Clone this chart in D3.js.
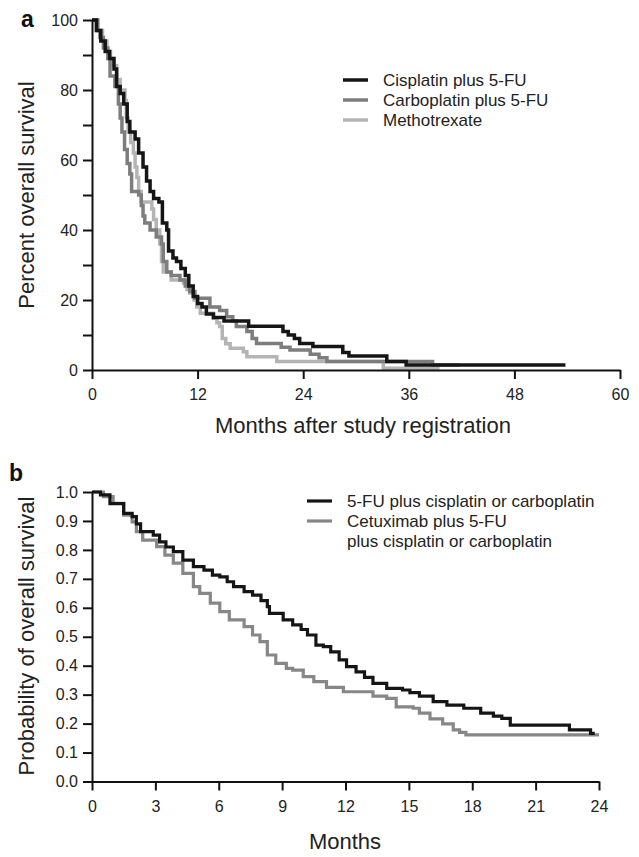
<!DOCTYPE html>
<html>
<head>
  <meta charset="utf-8">
  <style>
    body { margin: 0; background: #fff; }
    svg { display: block; font-family: "Liberation Sans", Arial, sans-serif; }
    .axis path, .axis line { stroke: #111; stroke-width: 2px; }
    .axis text { font-size: 16px; fill: #222; }
    .title { font-size: 22px; fill: #222; }
    .panel { font-size: 23px; font-weight: bold; fill: #111; }
    .leg { font-size: 17px; fill: #222; }
  </style>
  <script src="https://d3js.org/d3.v7.min.js"></script>
</head>
<body>
<div id="chart"></div>
<script>
  // panel a : months after registration / percent surviving
  var cisMonths = [0, 0.5, 1.0, 1.5, 2.0, 2.5, 2.8, 3.2, 3.6, 4.0, 4.3, 4.9, 5.3, 5.8, 6.2, 6.6, 7.0, 7.6, 8.0, 8.5, 8.7, 9.2, 9.6, 10.1, 10.6, 11.0, 11.5, 12.0, 12.5, 13.0, 13.8, 15.0, 17.8, 21.7, 22.3, 23.0, 23.6, 25.1, 28.5, 29.2, 33.5, 35.7, 53.8];
  var cisSurv   = [100, 97, 94, 91, 89, 86, 81, 79, 76, 71, 68, 66, 62, 58, 54, 51, 49, 48, 42, 40, 34, 32, 31, 29, 27, 24, 21, 19, 18, 16, 15, 14, 12.5, 11, 10, 9, 7.6, 6.7, 5, 4, 2.4, 1.4, 1.4];

  var carboMonths = [0, 0.6, 0.9, 1.3, 1.8, 2.05, 2.6, 3.0, 3.2, 3.4, 3.7, 4.0, 4.3, 4.5, 5.3, 5.6, 5.8, 6.0, 6.6, 7.3, 7.9, 8.1, 8.5, 9.0, 10.0, 10.6, 11.1, 11.7, 13.4, 14.5, 15.3, 16.0, 16.4, 17.6, 18.2, 18.7, 21.5, 22.5, 24.8, 25.8, 26.7, 38.7, 41.8];
  var carboSurv   = [100, 97, 95, 92, 89, 84, 81, 76, 72, 68, 63, 59, 56, 51, 50, 47, 44, 42, 40, 38, 36, 31, 28, 27, 25.7, 24, 22.4, 20.5, 18, 17, 15.2, 14, 12.4, 11, 9, 7.6, 6.5, 5.7, 4.5, 3.5, 2.4, 1.4, 1.4];

  var mtxMonths = [0, 0.7, 1.2, 1.7, 2.1, 2.4, 2.8, 3.2, 3.75, 3.9, 4.1, 4.4, 4.7, 4.9, 5.1, 5.3, 5.6, 6.8, 7.0, 7.3, 7.7, 7.9, 8.1, 9.0, 10.4, 10.8, 11.1, 11.6, 11.9, 12.3, 13.8, 14.2, 14.5, 14.8, 15.2, 15.7, 17.2, 17.6, 21.0, 33.1, 39.5];
  var mtxSurv   = [100, 97, 94, 91, 89, 87, 83, 80, 77, 72, 68, 65, 62, 58, 55, 51, 48, 46, 43, 40, 36, 31, 28, 25.7, 24.8, 23, 22, 20, 18, 16.2, 14.8, 13.5, 12.4, 9, 7.5, 6.2, 5.2, 3.8, 2.4, 0.5, 0.5];

  var seriesA = ["Cisplatin plus 5-FU", "Carboplatin plus 5-FU", "Methotrexate"];
  var colorsA = ["#151515", "#7d7d7d", "#b4b4b4"];
  var ticksA = [0, 12, 24, 36, 48, 60];

  // panel b : months / probability
  var chemoMonths = [0, 0.4, 0.85, 1.5, 1.9, 2.1, 2.3, 2.9, 3.2, 3.5, 3.85, 4.3, 4.8, 5.3, 5.7, 6.05, 6.4, 6.7, 7.2, 7.6, 8.0, 8.3, 8.4, 9.05, 9.5, 9.9, 10.2, 10.6, 10.95, 11.3, 11.7, 12.05, 12.5, 12.9, 13.3, 13.95, 14.7, 15.05, 15.5, 16.15, 16.8, 17.6, 18.4, 19.0, 19.4, 19.8, 22.6, 23.6, 23.8];
  var chemoSurv   = [1.0, 0.99, 0.96, 0.926, 0.915, 0.89, 0.863, 0.851, 0.828, 0.81, 0.794, 0.765, 0.742, 0.73, 0.713, 0.707, 0.69, 0.673, 0.656, 0.644, 0.625, 0.604, 0.581, 0.558, 0.541, 0.525, 0.506, 0.471, 0.466, 0.448, 0.42, 0.397, 0.379, 0.36, 0.339, 0.322, 0.316, 0.307, 0.295, 0.276, 0.264, 0.253, 0.236, 0.226, 0.218, 0.195, 0.178, 0.166, 0.166];

  var cetuxMonths = [0, 0.54, 1.0, 1.5, 1.9, 2.1, 2.4, 3.06, 3.45, 3.85, 4.3, 4.8, 5.1, 5.6, 6.05, 6.5, 7.2, 7.6, 7.95, 8.3, 8.7, 9.2, 9.5, 10.0, 10.5, 11.1, 11.9, 13.3, 13.95, 14.4, 15.2, 15.5, 16.0, 16.6, 17.1, 17.4, 17.7, 24.0];
  var cetuxSurv   = [1.0, 0.984, 0.961, 0.92, 0.897, 0.863, 0.834, 0.811, 0.782, 0.754, 0.719, 0.673, 0.65, 0.616, 0.587, 0.558, 0.535, 0.506, 0.483, 0.437, 0.408, 0.391, 0.385, 0.362, 0.345, 0.325, 0.31, 0.295, 0.287, 0.258, 0.253, 0.236, 0.216, 0.199, 0.178, 0.17, 0.161, 0.161];

  var seriesB = ["5-FU plus cisplatin or carboplatin", "Cetuximab plus 5-FU"];
  var colorsB = ["#151515", "#878787"];
  var ticksB = [0, 3, 6, 9, 12, 15, 18, 21, 24];

  function zip(t, s) {
    return t.map(function (d, i) { return [d, s[i]]; });
  }

  var svg = d3.select("#chart").append("svg")
    .attr("width", 639)
    .attr("height", 857);

  // ---------- panel a ----------
  var xA = d3.scaleLinear().domain([0, 60]).range([92, 620]);
  var yA = d3.scaleLinear().domain([0, 100]).range([370, 20]);

  var lineA = d3.line()
    .x(function (d) { return xA(d[0]); })
    .y(function (d) { return yA(d[1]); })
    .curve(d3.curveStepAfter);

  var dataA = [zip(mtxMonths, mtxSurv), zip(carboMonths, carboSurv), zip(cisMonths, cisSurv)];
  var colA = [colorsA[2], colorsA[1], colorsA[0]];
  svg.selectAll(".lineA").data(dataA).enter().append("path")
    .attr("class", "lineA")
    .attr("d", lineA)
    .attr("fill", "none")
    .attr("stroke", function (d, i) { return colA[i]; })
    .attr("stroke-width", 3.5);

  svg.append("g").attr("class", "axis")
    .attr("transform", "translate(0,370)")
    .call(d3.axisBottom(xA).tickValues(ticksA).tickSize(9).tickSizeOuter(0).tickPadding(10));

  svg.append("g").attr("class", "axis")
    .attr("transform", "translate(92,0)")
    .call(d3.axisLeft(yA).tickValues(d3.range(0, 101, 10)).tickSize(9).tickSizeOuter(0).tickPadding(5)
      .tickFormat(function (d) { return d % 20 === 0 ? d : ""; }));

  svg.append("text").attr("class", "title")
    .attr("text-anchor", "middle")
    .attr("transform", "translate(34,195) rotate(-90)")
    .text("Percent overall survival");

  svg.append("text").attr("class", "title")
    .attr("text-anchor", "middle")
    .attr("x", 363).attr("y", 433)
    .text("Months after study registration");

  svg.append("text").attr("class", "panel").attr("x", 21).attr("y", 27).text("a");

  var legA = svg.append("g").attr("transform", "translate(343,80)");
  seriesA.forEach(function (name, i) {
    legA.append("line").attr("x1", 0).attr("x2", 25)
      .attr("y1", i * 20).attr("y2", i * 20)
      .attr("stroke", colorsA[i]).attr("stroke-width", 3.5);
    legA.append("text").attr("class", "leg")
      .attr("x", 40).attr("y", i * 20).attr("dy", "0.35em")
      .text(name);
  });

  // ---------- panel b ----------
  var xB = d3.scaleLinear().domain([0, 24]).range([92, 599]);
  var yB = d3.scaleLinear().domain([0, 1]).range([781.5, 492]);

  var lineB = d3.line()
    .x(function (d) { return xB(d[0]); })
    .y(function (d) { return yB(d[1]); })
    .curve(d3.curveStepAfter);

  var dataB = [zip(cetuxMonths, cetuxSurv), zip(chemoMonths, chemoSurv)];
  var colB = [colorsB[1], colorsB[0]];
  svg.selectAll(".lineB").data(dataB).enter().append("path")
    .attr("class", "lineB")
    .attr("d", lineB)
    .attr("fill", "none")
    .attr("stroke", function (d, i) { return colB[i]; })
    .attr("stroke-width", 3.2);

  svg.append("g").attr("class", "axis")
    .attr("transform", "translate(0,781.5)")
    .call(d3.axisBottom(xB).tickValues(ticksB).tickSize(9).tickSizeOuter(0).tickPadding(10));

  svg.append("g").attr("class", "axis")
    .attr("transform", "translate(92,0)")
    .call(d3.axisLeft(yB).tickValues(d3.range(0, 11).map(function (d) { return d / 10; }))
      .tickSize(9).tickSizeOuter(0).tickPadding(5).tickFormat(d3.format(".1f")));

  svg.append("text").attr("class", "title")
    .attr("text-anchor", "middle")
    .attr("transform", "translate(34,636) rotate(-90)")
    .text("Probability of overall survival");

  svg.append("text").attr("class", "title")
    .attr("text-anchor", "middle")
    .attr("x", 345).attr("y", 849)
    .text("Months");

  svg.append("text").attr("class", "panel").attr("x", 9).attr("y", 481).text("b");

  var legB = svg.append("g").attr("transform", "translate(307,501)");
  seriesB.forEach(function (name, i) {
    legB.append("line").attr("x1", 0).attr("x2", 25)
      .attr("y1", i * 20).attr("y2", i * 20)
      .attr("stroke", colorsB[i]).attr("stroke-width", 3.2);
    legB.append("text").attr("class", "leg")
      .attr("x", 40).attr("y", i * 20).attr("dy", "0.35em")
      .text(name);
  });
  legB.append("text").attr("class", "leg")
    .attr("x", 40).attr("y", 40).attr("dy", "0.35em")
    .text("plus cisplatin or carboplatin");
</script>
</body>
</html>
